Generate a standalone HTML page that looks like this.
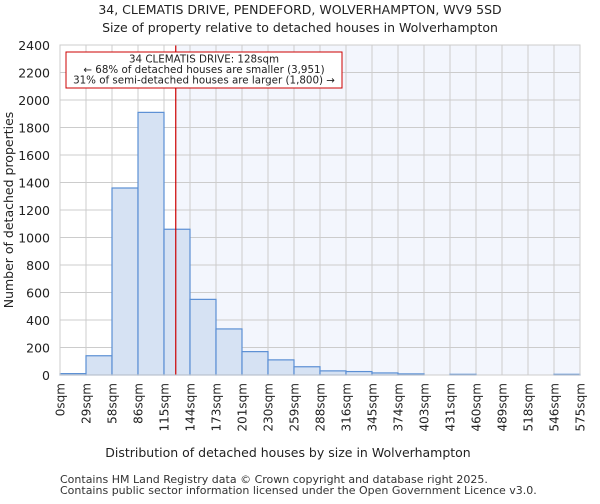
<!DOCTYPE html>
<html><head><meta charset="utf-8"><style>
body{margin:0;background:#fff;font-family:"DejaVu Sans","Liberation Sans",sans-serif;}
</style></head><body>
<svg width="600" height="500" viewBox="0 0 600 500" xmlns="http://www.w3.org/2000/svg" font-family="DejaVu Sans, Liberation Sans, sans-serif">
<text x="300" y="14" text-anchor="middle" font-size="12.5" fill="#222">34, CLEMATIS DRIVE, PENDEFORD, WOLVERHAMPTON, WV9 5SD</text>
<text x="300" y="32" text-anchor="middle" font-size="12.5" fill="#222">Size of property relative to detached houses in Wolverhampton</text>
<g id="plot"></g>
<text x="288" y="457" text-anchor="middle" font-size="12.5" fill="#222">Distribution of detached houses by size in Wolverhampton</text>
<text transform="translate(13,210) rotate(-90)" text-anchor="middle" font-size="12.5" fill="#222">Number of detached properties</text>
<text x="60" y="483" font-size="11" fill="#333">Contains HM Land Registry data © Crown copyright and database right 2025.</text>
<text x="60" y="494" font-size="11" fill="#333">Contains public sector information licensed under the Open Government Licence v3.0.</text>
</svg>
<script>
const categories=["0sqm","29sqm","58sqm","86sqm","115sqm","144sqm","173sqm","201sqm","230sqm","259sqm","288sqm","316sqm","345sqm","374sqm","403sqm","431sqm","460sqm","489sqm","518sqm","546sqm","575sqm"];
const counts=[10,140,1360,1910,1060,550,335,170,110,60,30,25,15,8,0,5,0,0,0,5];
const yTicks=[0,200,400,600,800,1000,1200,1400,1600,1800,2000,2200,2400];
const binWidth=28.75;
const propertySize=128;
const NS="http://www.w3.org/2000/svg";
const L=60,R=580,T=45,B=375,yMax=2400;
const bw=(R-L)/counts.length;
const xs=v=>L+v/binWidth*bw;
const ys=v=>B-(v/yMax)*(B-T);
const g=document.getElementById('plot');
function mk(t,a){const e=document.createElementNS(NS,t);for(const k in a)e.setAttribute(k,a[k]);g.appendChild(e);return e;}
const px=xs(propertySize);
let e=mk('rect',{x:L,y:T,width:R-L,height:B-T,fill:'#fff'});


e=mk('rect',{x:px,y:T,width:R-px,height:B-T,fill:'#f3f6fd'});


yTicks.forEach(t=>{const l=mk('line',{x1:L,x2:R,y1:ys(t),y2:ys(t),stroke:'#ccc','stroke-width':1});


const tx=mk('text',{x:L-10,y:ys(t)+5,'text-anchor':'end','font-size':12.5,fill:'#222'});tx.textContent=t;

});
categories.forEach((c,i)=>{const x=L+i*bw;const l=mk('line',{x1:x,x2:x,y1:T,y2:B,stroke:'#ccc','stroke-width':1});


const tx=mk('text',{transform:`translate(${x+4.5},${B+8}) rotate(-90)`,'text-anchor':'end','font-size':12,fill:'#222'});tx.textContent=c;

});
counts.forEach((v,i)=>{const r=mk('rect',{x:L+i*bw,y:ys(v),width:bw,height:B-ys(v),fill:'#d6e2f3',stroke:'#5b8fd4','stroke-width':1.2});

});
e=mk('line',{x1:px,x2:px,y1:T,y2:B,stroke:'#cc0000','stroke-width':1.2});


e=mk('rect',{x:66,y:52,width:276,height:36,fill:'#fff',stroke:'#cc0000','stroke-width':1});


["34 CLEMATIS DRIVE: 128sqm","← 68% of detached houses are smaller (3,951)","31% of semi-detached houses are larger (1,800) →"].forEach((s,i)=>{const t=mk('text',{x:204,y:62.5+i*10.5,'text-anchor':'middle','font-size':10.3,fill:'#222'});t.textContent=s;

});
e=mk('rect',{x:L,y:T,width:R-L,height:B-T,fill:'none',stroke:'#ccc'});


</script>
</body></html>
